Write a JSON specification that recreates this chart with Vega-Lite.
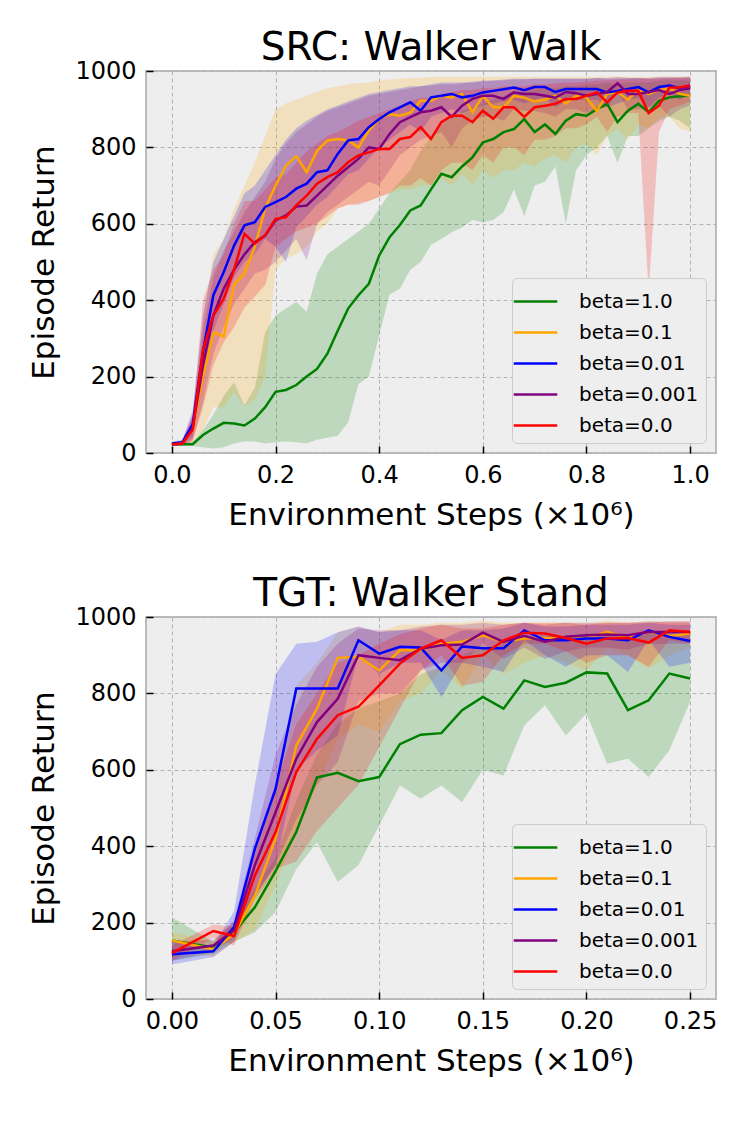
{
  "$schema": "https://vega.github.io/schema/vega-lite/v6.json",
  "background": "white",
  "padding": {"left": 27, "top": 28, "right": 5, "bottom": 5},
  "spacing": 42,
  "config": {
    "font": "DejaVu Sans",
    "view": {"fill": "#eeeeee", "stroke": "#bcbcbc", "strokeWidth": 2},
    "axis": {
      "domain": false,
      "grid": true,
      "gridColor": "#b2b2b2",
      "gridDash": [4, 3],
      "gridWidth": 1,
      "tickColor": "#000000",
      "tickSize": -7,
      "tickWidth": 1.5,
      "labelFont": "DejaVu Sans",
      "labelFontSize": 24,
      "labelColor": "#000000",
      "titleFont": "DejaVu Sans",
      "titleFontSize": 31,
      "titleFontWeight": "normal",
      "titleColor": "#000000"
    },
    "axisX": {"labelPadding": 17, "titlePadding": 13.5},
    "axisY": {"labelPadding": 17, "titlePadding": 14, "format": "d"},
    "title": {"font": "DejaVu Sans", "fontSize": 39, "fontWeight": "normal", "color": "#000000", "offset": -9},
    "legend": {
      "orient": "bottom-right",
      "offset": 10,
      "fillColor": "#eeeeee",
      "strokeColor": "#cccccc",
      "cornerRadius": 5,
      "padding": 7,
      "labelFont": "DejaVu Sans",
      "labelFontSize": 20,
      "labelColor": "#000000",
      "symbolType": "M-1.45,0H1.45",
      "symbolStrokeWidth": 2.5,
      "symbolSize": 900,
      "rowPadding": 4,
      "labelOffset": 27,
      "title": null
    }
  },
  "resolve": {"legend": {"stroke": "independent"}},
  "datasets": {
    "src": [
      {"b":"1.0","x":0,"y":23,"lo":18,"hi":28},
      {"b":"1.0","x":0.02,"y":23,"lo":18,"hi":28},
      {"b":"1.0","x":0.04,"y":23,"lo":18,"hi":30},
      {"b":"1.0","x":0.06,"y":47,"lo":15,"hi":60},
      {"b":"1.0","x":0.08,"y":64,"lo":12,"hi":100},
      {"b":"1.0","x":0.1,"y":79,"lo":15,"hi":150},
      {"b":"1.0","x":0.12,"y":77,"lo":25,"hi":185},
      {"b":"1.0","x":0.14,"y":72,"lo":30,"hi":125},
      {"b":"1.0","x":0.16,"y":90,"lo":30,"hi":170},
      {"b":"1.0","x":0.18,"y":120,"lo":25,"hi":317},
      {"b":"1.0","x":0.2,"y":160,"lo":28,"hi":360},
      {"b":"1.0","x":0.22,"y":165,"lo":30,"hi":378},
      {"b":"1.0","x":0.24,"y":178,"lo":28,"hi":395},
      {"b":"1.0","x":0.26,"y":200,"lo":25,"hi":370},
      {"b":"1.0","x":0.28,"y":220,"lo":35,"hi":470},
      {"b":"1.0","x":0.3,"y":260,"lo":40,"hi":520},
      {"b":"1.0","x":0.32,"y":320,"lo":45,"hi":540},
      {"b":"1.0","x":0.34,"y":378,"lo":80,"hi":560},
      {"b":"1.0","x":0.36,"y":413,"lo":180,"hi":580},
      {"b":"1.0","x":0.38,"y":443,"lo":200,"hi":600},
      {"b":"1.0","x":0.4,"y":517,"lo":308,"hi":640},
      {"b":"1.0","x":0.42,"y":565,"lo":415,"hi":680},
      {"b":"1.0","x":0.44,"y":597,"lo":430,"hi":710},
      {"b":"1.0","x":0.46,"y":635,"lo":480,"hi":740},
      {"b":"1.0","x":0.48,"y":648,"lo":500,"hi":790},
      {"b":"1.0","x":0.5,"y":690,"lo":545,"hi":830},
      {"b":"1.0","x":0.52,"y":731,"lo":560,"hi":860},
      {"b":"1.0","x":0.54,"y":722,"lo":578,"hi":880},
      {"b":"1.0","x":0.56,"y":750,"lo":590,"hi":895},
      {"b":"1.0","x":0.58,"y":774,"lo":610,"hi":905},
      {"b":"1.0","x":0.6,"y":813,"lo":604,"hi":915},
      {"b":"1.0","x":0.62,"y":822,"lo":610,"hi":925},
      {"b":"1.0","x":0.64,"y":840,"lo":630,"hi":935},
      {"b":"1.0","x":0.66,"y":848,"lo":690,"hi":940},
      {"b":"1.0","x":0.68,"y":874,"lo":620,"hi":945},
      {"b":"1.0","x":0.7,"y":840,"lo":700,"hi":950},
      {"b":"1.0","x":0.72,"y":860,"lo":710,"hi":955},
      {"b":"1.0","x":0.74,"y":835,"lo":750,"hi":955},
      {"b":"1.0","x":0.76,"y":870,"lo":600,"hi":960},
      {"b":"1.0","x":0.78,"y":887,"lo":740,"hi":960},
      {"b":"1.0","x":0.8,"y":883,"lo":780,"hi":965},
      {"b":"1.0","x":0.82,"y":900,"lo":800,"hi":965},
      {"b":"1.0","x":0.84,"y":914,"lo":830,"hi":970},
      {"b":"1.0","x":0.86,"y":866,"lo":760,"hi":965},
      {"b":"1.0","x":0.88,"y":896,"lo":830,"hi":970},
      {"b":"1.0","x":0.9,"y":914,"lo":830,"hi":970},
      {"b":"1.0","x":0.92,"y":892,"lo":850,"hi":970},
      {"b":"1.0","x":0.94,"y":922,"lo":870,"hi":975},
      {"b":"1.0","x":0.96,"y":931,"lo":880,"hi":975},
      {"b":"1.0","x":0.98,"y":934,"lo":870,"hi":975},
      {"b":"1.0","x":1,"y":936,"lo":850,"hi":975},

      {"b":"0.1","x":0,"y":23,"lo":18,"hi":28},
      {"b":"0.1","x":0.02,"y":25,"lo":20,"hi":30},
      {"b":"0.1","x":0.04,"y":60,"lo":30,"hi":90},
      {"b":"0.1","x":0.06,"y":200,"lo":60,"hi":350},
      {"b":"0.1","x":0.08,"y":315,"lo":120,"hi":520},
      {"b":"0.1","x":0.1,"y":305,"lo":120,"hi":560},
      {"b":"0.1","x":0.12,"y":440,"lo":160,"hi":640},
      {"b":"0.1","x":0.14,"y":470,"lo":120,"hi":700},
      {"b":"0.1","x":0.16,"y":540,"lo":140,"hi":760},
      {"b":"0.1","x":0.18,"y":640,"lo":200,"hi":830},
      {"b":"0.1","x":0.2,"y":700,"lo":480,"hi":900},
      {"b":"0.1","x":0.22,"y":752,"lo":510,"hi":915},
      {"b":"0.1","x":0.24,"y":777,"lo":520,"hi":925},
      {"b":"0.1","x":0.26,"y":735,"lo":540,"hi":935},
      {"b":"0.1","x":0.28,"y":791,"lo":580,"hi":945},
      {"b":"0.1","x":0.3,"y":818,"lo":600,"hi":955},
      {"b":"0.1","x":0.32,"y":822,"lo":640,"hi":960},
      {"b":"0.1","x":0.34,"y":818,"lo":650,"hi":965},
      {"b":"0.1","x":0.36,"y":800,"lo":655,"hi":968},
      {"b":"0.1","x":0.38,"y":844,"lo":660,"hi":970},
      {"b":"0.1","x":0.4,"y":874,"lo":670,"hi":975},
      {"b":"0.1","x":0.42,"y":887,"lo":680,"hi":978},
      {"b":"0.1","x":0.44,"y":883,"lo":690,"hi":980},
      {"b":"0.1","x":0.46,"y":891,"lo":690,"hi":982},
      {"b":"0.1","x":0.48,"y":922,"lo":700,"hi":982},
      {"b":"0.1","x":0.5,"y":922,"lo":700,"hi":985},
      {"b":"0.1","x":0.52,"y":935,"lo":720,"hi":985},
      {"b":"0.1","x":0.54,"y":931,"lo":700,"hi":985},
      {"b":"0.1","x":0.56,"y":940,"lo":730,"hi":985},
      {"b":"0.1","x":0.58,"y":892,"lo":700,"hi":985},
      {"b":"0.1","x":0.6,"y":935,"lo":740,"hi":985},
      {"b":"0.1","x":0.62,"y":905,"lo":720,"hi":985},
      {"b":"0.1","x":0.64,"y":905,"lo":740,"hi":985},
      {"b":"0.1","x":0.66,"y":935,"lo":740,"hi":985},
      {"b":"0.1","x":0.68,"y":930,"lo":760,"hi":985},
      {"b":"0.1","x":0.7,"y":920,"lo":750,"hi":985},
      {"b":"0.1","x":0.72,"y":925,"lo":770,"hi":985},
      {"b":"0.1","x":0.74,"y":935,"lo":780,"hi":985},
      {"b":"0.1","x":0.76,"y":915,"lo":760,"hi":985},
      {"b":"0.1","x":0.78,"y":935,"lo":800,"hi":985},
      {"b":"0.1","x":0.8,"y":930,"lo":810,"hi":985},
      {"b":"0.1","x":0.82,"y":895,"lo":780,"hi":985},
      {"b":"0.1","x":0.84,"y":940,"lo":830,"hi":985},
      {"b":"0.1","x":0.86,"y":945,"lo":850,"hi":985},
      {"b":"0.1","x":0.88,"y":925,"lo":820,"hi":985},
      {"b":"0.1","x":0.9,"y":950,"lo":860,"hi":985},
      {"b":"0.1","x":0.92,"y":940,"lo":850,"hi":985},
      {"b":"0.1","x":0.94,"y":950,"lo":880,"hi":985},
      {"b":"0.1","x":0.96,"y":955,"lo":880,"hi":985},
      {"b":"0.1","x":0.98,"y":940,"lo":850,"hi":985},
      {"b":"0.1","x":1,"y":935,"lo":840,"hi":985},

      {"b":"0.01","x":0,"y":25,"lo":20,"hi":30},
      {"b":"0.01","x":0.02,"y":28,"lo":22,"hi":34},
      {"b":"0.01","x":0.04,"y":75,"lo":40,"hi":110},
      {"b":"0.01","x":0.06,"y":265,"lo":180,"hi":360},
      {"b":"0.01","x":0.08,"y":413,"lo":320,"hi":500},
      {"b":"0.01","x":0.1,"y":474,"lo":390,"hi":560},
      {"b":"0.01","x":0.12,"y":543,"lo":460,"hi":620},
      {"b":"0.01","x":0.14,"y":596,"lo":500,"hi":680},
      {"b":"0.01","x":0.16,"y":604,"lo":520,"hi":700},
      {"b":"0.01","x":0.18,"y":644,"lo":560,"hi":740},
      {"b":"0.01","x":0.2,"y":657,"lo":540,"hi":780},
      {"b":"0.01","x":0.22,"y":670,"lo":500,"hi":820},
      {"b":"0.01","x":0.24,"y":692,"lo":590,"hi":850},
      {"b":"0.01","x":0.26,"y":705,"lo":620,"hi":870},
      {"b":"0.01","x":0.28,"y":735,"lo":650,"hi":885},
      {"b":"0.01","x":0.3,"y":740,"lo":670,"hi":900},
      {"b":"0.01","x":0.32,"y":783,"lo":700,"hi":910},
      {"b":"0.01","x":0.34,"y":818,"lo":730,"hi":920},
      {"b":"0.01","x":0.36,"y":822,"lo":740,"hi":930},
      {"b":"0.01","x":0.38,"y":853,"lo":770,"hi":940},
      {"b":"0.01","x":0.4,"y":874,"lo":800,"hi":945},
      {"b":"0.01","x":0.42,"y":892,"lo":820,"hi":950},
      {"b":"0.01","x":0.44,"y":905,"lo":840,"hi":955},
      {"b":"0.01","x":0.46,"y":918,"lo":860,"hi":960},
      {"b":"0.01","x":0.48,"y":896,"lo":840,"hi":960},
      {"b":"0.01","x":0.5,"y":931,"lo":880,"hi":965},
      {"b":"0.01","x":0.52,"y":935,"lo":890,"hi":970},
      {"b":"0.01","x":0.54,"y":940,"lo":900,"hi":970},
      {"b":"0.01","x":0.56,"y":931,"lo":890,"hi":970},
      {"b":"0.01","x":0.58,"y":935,"lo":900,"hi":972},
      {"b":"0.01","x":0.6,"y":944,"lo":910,"hi":975},
      {"b":"0.01","x":0.62,"y":948,"lo":915,"hi":975},
      {"b":"0.01","x":0.64,"y":952,"lo":920,"hi":978},
      {"b":"0.01","x":0.66,"y":957,"lo":925,"hi":980},
      {"b":"0.01","x":0.68,"y":950,"lo":915,"hi":980},
      {"b":"0.01","x":0.7,"y":958,"lo":925,"hi":980},
      {"b":"0.01","x":0.72,"y":958,"lo":930,"hi":980},
      {"b":"0.01","x":0.74,"y":945,"lo":905,"hi":980},
      {"b":"0.01","x":0.76,"y":953,"lo":920,"hi":980},
      {"b":"0.01","x":0.78,"y":953,"lo":925,"hi":980},
      {"b":"0.01","x":0.8,"y":953,"lo":925,"hi":980},
      {"b":"0.01","x":0.82,"y":953,"lo":925,"hi":982},
      {"b":"0.01","x":0.84,"y":944,"lo":905,"hi":980},
      {"b":"0.01","x":0.86,"y":948,"lo":915,"hi":980},
      {"b":"0.01","x":0.88,"y":953,"lo":925,"hi":982},
      {"b":"0.01","x":0.9,"y":958,"lo":930,"hi":982},
      {"b":"0.01","x":0.92,"y":944,"lo":905,"hi":980},
      {"b":"0.01","x":0.94,"y":958,"lo":930,"hi":982},
      {"b":"0.01","x":0.96,"y":962,"lo":940,"hi":982},
      {"b":"0.01","x":0.98,"y":955,"lo":925,"hi":982},
      {"b":"0.01","x":1,"y":962,"lo":940,"hi":982},

      {"b":"0.001","x":0,"y":22,"lo":18,"hi":28},
      {"b":"0.001","x":0.02,"y":25,"lo":20,"hi":30},
      {"b":"0.001","x":0.04,"y":65,"lo":35,"hi":100},
      {"b":"0.001","x":0.06,"y":230,"lo":130,"hi":320},
      {"b":"0.001","x":0.08,"y":360,"lo":260,"hi":460},
      {"b":"0.001","x":0.1,"y":430,"lo":330,"hi":530},
      {"b":"0.001","x":0.12,"y":480,"lo":390,"hi":580},
      {"b":"0.001","x":0.14,"y":520,"lo":430,"hi":630},
      {"b":"0.001","x":0.16,"y":552,"lo":470,"hi":670},
      {"b":"0.001","x":0.18,"y":569,"lo":480,"hi":710},
      {"b":"0.001","x":0.2,"y":609,"lo":500,"hi":770},
      {"b":"0.001","x":0.22,"y":622,"lo":530,"hi":810},
      {"b":"0.001","x":0.24,"y":645,"lo":560,"hi":840},
      {"b":"0.001","x":0.26,"y":648,"lo":505,"hi":860},
      {"b":"0.001","x":0.28,"y":674,"lo":600,"hi":880},
      {"b":"0.001","x":0.3,"y":700,"lo":630,"hi":895},
      {"b":"0.001","x":0.32,"y":726,"lo":650,"hi":905},
      {"b":"0.001","x":0.34,"y":748,"lo":670,"hi":915},
      {"b":"0.001","x":0.36,"y":770,"lo":690,"hi":925},
      {"b":"0.001","x":0.38,"y":800,"lo":710,"hi":935},
      {"b":"0.001","x":0.4,"y":796,"lo":700,"hi":940},
      {"b":"0.001","x":0.42,"y":835,"lo":740,"hi":945},
      {"b":"0.001","x":0.44,"y":866,"lo":780,"hi":950},
      {"b":"0.001","x":0.46,"y":879,"lo":800,"hi":955},
      {"b":"0.001","x":0.48,"y":892,"lo":820,"hi":960},
      {"b":"0.001","x":0.5,"y":896,"lo":830,"hi":962},
      {"b":"0.001","x":0.52,"y":905,"lo":840,"hi":965},
      {"b":"0.001","x":0.54,"y":880,"lo":800,"hi":965},
      {"b":"0.001","x":0.56,"y":909,"lo":850,"hi":968},
      {"b":"0.001","x":0.58,"y":927,"lo":870,"hi":970},
      {"b":"0.001","x":0.6,"y":935,"lo":880,"hi":972},
      {"b":"0.001","x":0.62,"y":935,"lo":880,"hi":975},
      {"b":"0.001","x":0.64,"y":927,"lo":870,"hi":975},
      {"b":"0.001","x":0.66,"y":944,"lo":900,"hi":978},
      {"b":"0.001","x":0.68,"y":940,"lo":895,"hi":978},
      {"b":"0.001","x":0.7,"y":940,"lo":895,"hi":980},
      {"b":"0.001","x":0.72,"y":935,"lo":890,"hi":980},
      {"b":"0.001","x":0.74,"y":930,"lo":880,"hi":980},
      {"b":"0.001","x":0.76,"y":945,"lo":900,"hi":980},
      {"b":"0.001","x":0.78,"y":942,"lo":900,"hi":980},
      {"b":"0.001","x":0.8,"y":935,"lo":890,"hi":980},
      {"b":"0.001","x":0.82,"y":940,"lo":900,"hi":982},
      {"b":"0.001","x":0.84,"y":945,"lo":905,"hi":982},
      {"b":"0.001","x":0.86,"y":968,"lo":945,"hi":985},
      {"b":"0.001","x":0.88,"y":940,"lo":900,"hi":982},
      {"b":"0.001","x":0.9,"y":940,"lo":900,"hi":982},
      {"b":"0.001","x":0.92,"y":945,"lo":905,"hi":982},
      {"b":"0.001","x":0.94,"y":950,"lo":910,"hi":985},
      {"b":"0.001","x":0.96,"y":940,"lo":880,"hi":985},
      {"b":"0.001","x":0.98,"y":950,"lo":900,"hi":985},
      {"b":"0.001","x":1,"y":955,"lo":910,"hi":985},

      {"b":"0.0","x":0,"y":23,"lo":18,"hi":28},
      {"b":"0.0","x":0.02,"y":25,"lo":20,"hi":30},
      {"b":"0.0","x":0.04,"y":60,"lo":30,"hi":95},
      {"b":"0.0","x":0.06,"y":270,"lo":120,"hi":400},
      {"b":"0.0","x":0.08,"y":360,"lo":230,"hi":480},
      {"b":"0.0","x":0.1,"y":404,"lo":290,"hi":520},
      {"b":"0.0","x":0.12,"y":480,"lo":330,"hi":600},
      {"b":"0.0","x":0.14,"y":574,"lo":380,"hi":660},
      {"b":"0.0","x":0.16,"y":548,"lo":410,"hi":660},
      {"b":"0.0","x":0.18,"y":570,"lo":440,"hi":690},
      {"b":"0.0","x":0.2,"y":613,"lo":540,"hi":720},
      {"b":"0.0","x":0.22,"y":617,"lo":560,"hi":730},
      {"b":"0.0","x":0.24,"y":648,"lo":580,"hi":760},
      {"b":"0.0","x":0.26,"y":674,"lo":590,"hi":790},
      {"b":"0.0","x":0.28,"y":705,"lo":600,"hi":810},
      {"b":"0.0","x":0.3,"y":722,"lo":620,"hi":830},
      {"b":"0.0","x":0.32,"y":735,"lo":640,"hi":840},
      {"b":"0.0","x":0.34,"y":761,"lo":650,"hi":855},
      {"b":"0.0","x":0.36,"y":779,"lo":650,"hi":870},
      {"b":"0.0","x":0.38,"y":787,"lo":660,"hi":880},
      {"b":"0.0","x":0.4,"y":796,"lo":670,"hi":890},
      {"b":"0.0","x":0.42,"y":796,"lo":680,"hi":900},
      {"b":"0.0","x":0.44,"y":822,"lo":700,"hi":910},
      {"b":"0.0","x":0.46,"y":827,"lo":700,"hi":920},
      {"b":"0.0","x":0.48,"y":853,"lo":720,"hi":930},
      {"b":"0.0","x":0.5,"y":822,"lo":700,"hi":930},
      {"b":"0.0","x":0.52,"y":866,"lo":740,"hi":940},
      {"b":"0.0","x":0.54,"y":883,"lo":760,"hi":945},
      {"b":"0.0","x":0.56,"y":883,"lo":760,"hi":950},
      {"b":"0.0","x":0.58,"y":866,"lo":740,"hi":950},
      {"b":"0.0","x":0.6,"y":896,"lo":780,"hi":955},
      {"b":"0.0","x":0.62,"y":875,"lo":760,"hi":955},
      {"b":"0.0","x":0.64,"y":905,"lo":800,"hi":960},
      {"b":"0.0","x":0.66,"y":905,"lo":800,"hi":960},
      {"b":"0.0","x":0.68,"y":880,"lo":780,"hi":960},
      {"b":"0.0","x":0.7,"y":905,"lo":820,"hi":965},
      {"b":"0.0","x":0.72,"y":909,"lo":820,"hi":965},
      {"b":"0.0","x":0.74,"y":914,"lo":830,"hi":968},
      {"b":"0.0","x":0.76,"y":927,"lo":850,"hi":970},
      {"b":"0.0","x":0.78,"y":927,"lo":850,"hi":970},
      {"b":"0.0","x":0.8,"y":935,"lo":860,"hi":972},
      {"b":"0.0","x":0.82,"y":944,"lo":880,"hi":975},
      {"b":"0.0","x":0.84,"y":918,"lo":840,"hi":975},
      {"b":"0.0","x":0.86,"y":944,"lo":880,"hi":978},
      {"b":"0.0","x":0.88,"y":948,"lo":890,"hi":978},
      {"b":"0.0","x":0.9,"y":948,"lo":890,"hi":980},
      {"b":"0.0","x":0.92,"y":890,"lo":420,"hi":980},
      {"b":"0.0","x":0.94,"y":909,"lo":840,"hi":980},
      {"b":"0.0","x":0.96,"y":957,"lo":900,"hi":982},
      {"b":"0.0","x":0.98,"y":957,"lo":910,"hi":982},
      {"b":"0.0","x":1,"y":962,"lo":920,"hi":985}
    ],
    "tgt": [
      {"b":"1.0","x":0,"y":153,"lo":100,"hi":214},
      {"b":"1.0","x":0.02,"y":135,"lo":118,"hi":150},
      {"b":"1.0","x":0.03,"y":175,"lo":150,"hi":200},
      {"b":"1.0","x":0.04,"y":240,"lo":175,"hi":290},
      {"b":"1.0","x":0.05,"y":335,"lo":227,"hi":370},
      {"b":"1.0","x":0.06,"y":437,"lo":340,"hi":520},
      {"b":"1.0","x":0.07,"y":580,"lo":410,"hi":640},
      {"b":"1.0","x":0.08,"y":592,"lo":306,"hi":720},
      {"b":"1.0","x":0.09,"y":570,"lo":350,"hi":760},
      {"b":"1.0","x":0.1,"y":581,"lo":454,"hi":780},
      {"b":"1.0","x":0.11,"y":667,"lo":559,"hi":800},
      {"b":"1.0","x":0.12,"y":692,"lo":524,"hi":850},
      {"b":"1.0","x":0.13,"y":696,"lo":559,"hi":870},
      {"b":"1.0","x":0.14,"y":756,"lo":515,"hi":900},
      {"b":"1.0","x":0.15,"y":791,"lo":600,"hi":920},
      {"b":"1.0","x":0.16,"y":760,"lo":585,"hi":930},
      {"b":"1.0","x":0.17,"y":834,"lo":716,"hi":945},
      {"b":"1.0","x":0.18,"y":817,"lo":769,"hi":950},
      {"b":"1.0","x":0.19,"y":828,"lo":690,"hi":950},
      {"b":"1.0","x":0.2,"y":855,"lo":747,"hi":955},
      {"b":"1.0","x":0.21,"y":852,"lo":616,"hi":955},
      {"b":"1.0","x":0.22,"y":756,"lo":629,"hi":955},
      {"b":"1.0","x":0.23,"y":782,"lo":581,"hi":960},
      {"b":"1.0","x":0.24,"y":852,"lo":651,"hi":960},
      {"b":"1.0","x":0.25,"y":839,"lo":778,"hi":960},

      {"b":"0.1","x":0,"y":153,"lo":130,"hi":175},
      {"b":"0.1","x":0.02,"y":130,"lo":110,"hi":150},
      {"b":"0.1","x":0.03,"y":170,"lo":150,"hi":200},
      {"b":"0.1","x":0.04,"y":270,"lo":180,"hi":380},
      {"b":"0.1","x":0.05,"y":420,"lo":300,"hi":560},
      {"b":"0.1","x":0.06,"y":664,"lo":440,"hi":820},
      {"b":"0.1","x":0.07,"y":760,"lo":560,"hi":880},
      {"b":"0.1","x":0.08,"y":893,"lo":680,"hi":960},
      {"b":"0.1","x":0.09,"y":896,"lo":720,"hi":975},
      {"b":"0.1","x":0.1,"y":860,"lo":700,"hi":960},
      {"b":"0.1","x":0.11,"y":913,"lo":780,"hi":980},
      {"b":"0.1","x":0.12,"y":913,"lo":800,"hi":980},
      {"b":"0.1","x":0.13,"y":930,"lo":860,"hi":985},
      {"b":"0.1","x":0.14,"y":935,"lo":813,"hi":985},
      {"b":"0.1","x":0.15,"y":952,"lo":900,"hi":990},
      {"b":"0.1","x":0.16,"y":935,"lo":850,"hi":985},
      {"b":"0.1","x":0.17,"y":944,"lo":880,"hi":985},
      {"b":"0.1","x":0.18,"y":945,"lo":900,"hi":985},
      {"b":"0.1","x":0.19,"y":943,"lo":880,"hi":985},
      {"b":"0.1","x":0.2,"y":944,"lo":860,"hi":985},
      {"b":"0.1","x":0.21,"y":961,"lo":920,"hi":990},
      {"b":"0.1","x":0.22,"y":945,"lo":900,"hi":985},
      {"b":"0.1","x":0.23,"y":961,"lo":865,"hi":990},
      {"b":"0.1","x":0.24,"y":950,"lo":900,"hi":985},
      {"b":"0.1","x":0.25,"y":957,"lo":920,"hi":985},

      {"b":"0.01","x":0,"y":117,"lo":90,"hi":150},
      {"b":"0.01","x":0.02,"y":125,"lo":110,"hi":140},
      {"b":"0.01","x":0.03,"y":188,"lo":150,"hi":230},
      {"b":"0.01","x":0.04,"y":393,"lo":270,"hi":560},
      {"b":"0.01","x":0.05,"y":550,"lo":350,"hi":850},
      {"b":"0.01","x":0.06,"y":813,"lo":600,"hi":930},
      {"b":"0.01","x":0.07,"y":813,"lo":650,"hi":935},
      {"b":"0.01","x":0.08,"y":813,"lo":690,"hi":960},
      {"b":"0.01","x":0.09,"y":939,"lo":900,"hi":975},
      {"b":"0.01","x":0.1,"y":904,"lo":850,"hi":960},
      {"b":"0.01","x":0.11,"y":922,"lo":880,"hi":965},
      {"b":"0.01","x":0.12,"y":920,"lo":880,"hi":965},
      {"b":"0.01","x":0.13,"y":860,"lo":790,"hi":940},
      {"b":"0.01","x":0.14,"y":923,"lo":880,"hi":965},
      {"b":"0.01","x":0.15,"y":918,"lo":870,"hi":965},
      {"b":"0.01","x":0.16,"y":918,"lo":856,"hi":970},
      {"b":"0.01","x":0.17,"y":965,"lo":940,"hi":985},
      {"b":"0.01","x":0.18,"y":939,"lo":900,"hi":975},
      {"b":"0.01","x":0.19,"y":939,"lo":870,"hi":975},
      {"b":"0.01","x":0.2,"y":944,"lo":900,"hi":980},
      {"b":"0.01","x":0.21,"y":944,"lo":900,"hi":980},
      {"b":"0.01","x":0.22,"y":939,"lo":856,"hi":980},
      {"b":"0.01","x":0.23,"y":965,"lo":940,"hi":985},
      {"b":"0.01","x":0.24,"y":948,"lo":870,"hi":980},
      {"b":"0.01","x":0.25,"y":937,"lo":880,"hi":980},

      {"b":"0.001","x":0,"y":125,"lo":100,"hi":150},
      {"b":"0.001","x":0.02,"y":140,"lo":125,"hi":155},
      {"b":"0.001","x":0.03,"y":180,"lo":160,"hi":205},
      {"b":"0.001","x":0.04,"y":350,"lo":270,"hi":420},
      {"b":"0.001","x":0.05,"y":489,"lo":350,"hi":640},
      {"b":"0.001","x":0.06,"y":629,"lo":470,"hi":770},
      {"b":"0.001","x":0.07,"y":725,"lo":560,"hi":870},
      {"b":"0.001","x":0.08,"y":786,"lo":620,"hi":930},
      {"b":"0.001","x":0.09,"y":900,"lo":780,"hi":970},
      {"b":"0.001","x":0.1,"y":893,"lo":800,"hi":965},
      {"b":"0.001","x":0.11,"y":887,"lo":800,"hi":965},
      {"b":"0.001","x":0.12,"y":917,"lo":860,"hi":975},
      {"b":"0.001","x":0.13,"y":926,"lo":880,"hi":980},
      {"b":"0.001","x":0.14,"y":928,"lo":880,"hi":980},
      {"b":"0.001","x":0.15,"y":959,"lo":930,"hi":985},
      {"b":"0.001","x":0.16,"y":935,"lo":890,"hi":980},
      {"b":"0.001","x":0.17,"y":951,"lo":920,"hi":985},
      {"b":"0.001","x":0.18,"y":935,"lo":890,"hi":980},
      {"b":"0.001","x":0.19,"y":948,"lo":910,"hi":985},
      {"b":"0.001","x":0.2,"y":952,"lo":920,"hi":985},
      {"b":"0.001","x":0.21,"y":954,"lo":920,"hi":985},
      {"b":"0.001","x":0.22,"y":952,"lo":915,"hi":985},
      {"b":"0.001","x":0.23,"y":961,"lo":930,"hi":988},
      {"b":"0.001","x":0.24,"y":961,"lo":930,"hi":988},
      {"b":"0.001","x":0.25,"y":961,"lo":930,"hi":988},

      {"b":"0.0","x":0,"y":120,"lo":100,"hi":140},
      {"b":"0.0","x":0.02,"y":178,"lo":160,"hi":195},
      {"b":"0.0","x":0.03,"y":165,"lo":140,"hi":190},
      {"b":"0.0","x":0.04,"y":323,"lo":260,"hi":380},
      {"b":"0.0","x":0.05,"y":437,"lo":340,"hi":560},
      {"b":"0.0","x":0.06,"y":594,"lo":360,"hi":720},
      {"b":"0.0","x":0.07,"y":681,"lo":440,"hi":800},
      {"b":"0.0","x":0.08,"y":743,"lo":500,"hi":880},
      {"b":"0.0","x":0.09,"y":765,"lo":560,"hi":900},
      {"b":"0.0","x":0.1,"y":821,"lo":660,"hi":930},
      {"b":"0.0","x":0.11,"y":878,"lo":760,"hi":955},
      {"b":"0.0","x":0.12,"y":917,"lo":860,"hi":970},
      {"b":"0.0","x":0.13,"y":939,"lo":900,"hi":980},
      {"b":"0.0","x":0.14,"y":893,"lo":820,"hi":970},
      {"b":"0.0","x":0.15,"y":900,"lo":830,"hi":970},
      {"b":"0.0","x":0.16,"y":939,"lo":900,"hi":980},
      {"b":"0.0","x":0.17,"y":959,"lo":930,"hi":985},
      {"b":"0.0","x":0.18,"y":957,"lo":930,"hi":985},
      {"b":"0.0","x":0.19,"y":945,"lo":910,"hi":985},
      {"b":"0.0","x":0.2,"y":930,"lo":880,"hi":980},
      {"b":"0.0","x":0.21,"y":944,"lo":900,"hi":985},
      {"b":"0.0","x":0.22,"y":945,"lo":900,"hi":985},
      {"b":"0.0","x":0.23,"y":933,"lo":870,"hi":985},
      {"b":"0.0","x":0.24,"y":965,"lo":940,"hi":988},
      {"b":"0.0","x":0.25,"y":961,"lo":930,"hi":988}
    ]
  },
  "vconcat": [
    {
      "title": "SRC: Walker Walk",
      "width": 570,
      "height": 382,
      "data": {"name": "src"},
      "layer": [
        {
          "mark": {"type": "area", "opacity": 0.2},
          "encoding": {
            "x": {"field": "x", "type": "quantitative", "scale": {"domain": [-0.05, 1.05], "nice": false, "zero": false}, "axis": {"values": [0, 0.2, 0.4, 0.6, 0.8, 1.0], "format": ".1f", "title": "Environment Steps (×10⁶)"}},
            "y": {"field": "lo", "type": "quantitative", "scale": {"domain": [0, 1000], "nice": false}, "axis": {"values": [0, 200, 400, 600, 800, 1000], "title": "Episode Return"}},
            "y2": {"field": "hi"},
            "fill": {"field": "b", "type": "nominal", "scale": {"domain": ["1.0", "0.1", "0.01", "0.001", "0.0"], "range": ["#008000", "#ffa500", "#0000ff", "#800080", "#ff0000"]}, "legend": null}
          }
        },
        {
          "mark": {"type": "line", "strokeWidth": 2.5},
          "encoding": {
            "x": {"field": "x", "type": "quantitative", "axis": {"values": [0, 0.2, 0.4, 0.6, 0.8, 1.0], "format": ".1f", "title": "Environment Steps (×10⁶)"}},
            "y": {"field": "y", "type": "quantitative", "axis": {"values": [0, 200, 400, 600, 800, 1000], "title": "Episode Return"}},
            "stroke": {"field": "b", "type": "nominal", "scale": {"domain": ["1.0", "0.1", "0.01", "0.001", "0.0"], "range": ["#008000", "#ffa500", "#0000ff", "#800080", "#ff0000"]}, "legend": {"labelExpr": "'beta=' + datum.label"}}
          }
        }
      ]
    },
    {
      "title": "TGT: Walker Stand",
      "width": 570,
      "height": 382,
      "data": {"name": "tgt"},
      "layer": [
        {
          "mark": {"type": "area", "opacity": 0.2},
          "encoding": {
            "x": {"field": "x", "type": "quantitative", "scale": {"domain": [-0.0125, 0.2625], "nice": false, "zero": false}, "axis": {"values": [0, 0.05, 0.1, 0.15, 0.2, 0.25], "format": ".2f", "title": "Environment Steps (×10⁶)"}},
            "y": {"field": "lo", "type": "quantitative", "scale": {"domain": [0, 1000], "nice": false}, "axis": {"values": [0, 200, 400, 600, 800, 1000], "title": "Episode Return"}},
            "y2": {"field": "hi"},
            "fill": {"field": "b", "type": "nominal", "scale": {"domain": ["1.0", "0.1", "0.01", "0.001", "0.0"], "range": ["#008000", "#ffa500", "#0000ff", "#800080", "#ff0000"]}, "legend": null}
          }
        },
        {
          "mark": {"type": "line", "strokeWidth": 2.5},
          "encoding": {
            "x": {"field": "x", "type": "quantitative", "axis": {"values": [0, 0.05, 0.1, 0.15, 0.2, 0.25], "format": ".2f", "title": "Environment Steps (×10⁶)"}},
            "y": {"field": "y", "type": "quantitative", "axis": {"values": [0, 200, 400, 600, 800, 1000], "title": "Episode Return"}},
            "stroke": {"field": "b", "type": "nominal", "scale": {"domain": ["1.0", "0.1", "0.01", "0.001", "0.0"], "range": ["#008000", "#ffa500", "#0000ff", "#800080", "#ff0000"]}, "legend": {"labelExpr": "'beta=' + datum.label"}}
          }
        }
      ]
    }
  ]
}
